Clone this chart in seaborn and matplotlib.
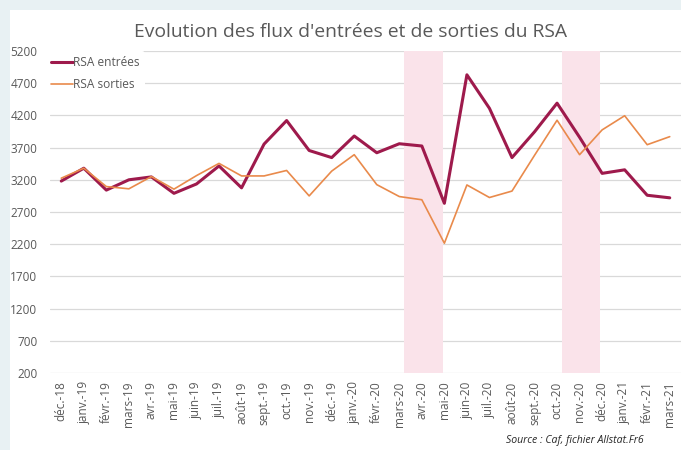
import matplotlib
matplotlib.use("Agg")
import matplotlib.pyplot as plt
from matplotlib.patches import Rectangle
import numpy as np
import pandas as pd
import seaborn as sns

mois = ["déc.-18", "janv.-19", "févr.-19", "mars-19", "avr.-19", "mai-19", "juin-19",
        "juil.-19", "août-19", "sept.-19", "oct.-19", "nov.-19", "déc.-19", "janv.-20",
        "févr.-20", "mars-20", "avr.-20", "mai-20", "juin-20", "juil.-20", "août-20",
        "sept.-20", "oct.-20", "nov.-20", "déc.-20", "janv.-21", "févr.-21", "mars-21"]
entrees = [3180, 3380, 3040, 3200, 3245, 2990, 3135, 3415, 3075, 3755, 4120, 3655,
           3545, 3880, 3620, 3760, 3725, 2835, 4830, 4310, 3545, 3945, 4390, 3860,
           3300, 3355, 2960, 2920]
sorties = [3225, 3380, 3095, 3060, 3250, 3055, 3265, 3455, 3260, 3260, 3345, 2950,
           3335, 3590, 3125, 2940, 2890, 2215, 3120, 2925, 3025, 3580, 4125, 3590,
           3975, 4195, 3745, 3870]
y_ticks = [200, 700, 1200, 1700, 2200, 2700, 3200, 3700, 4200, 4700, 5200]
# periodes de confinement (positions sur l'axe des mois)
confinements = [(15.2, 16.95), (22.2, 23.9)]

df = pd.DataFrame({
    "mois": list(range(len(mois))) * 2,
    "valeur": entrees + sorties,
    "serie": ["RSA entrées"] * len(mois) + ["RSA sorties"] * len(mois),
})

sns.set_style("white")
plt.rcParams["font.family"] = ["Open Sans", "DejaVu Sans"]

fig = plt.figure(figsize=(6.81, 4.5), dpi=100)
fig.patch.set_facecolor("#e8f1f3")
fig.add_artist(Rectangle((10 / 681, 0), 1, 1 - 10 / 450, transform=fig.transFigure,
                         facecolor="white", edgecolor="none", zorder=0))

ax = fig.add_axes([50 / 681, 1 - 373 / 450, 1 - 50 / 681, (373 - 51) / 450])
ax.set_facecolor("none")

for a, b in confinements:
    ax.axvspan(a, b, color="#fae3ea", zorder=1, lw=0)

sns.lineplot(data=df, x="mois", y="valeur", hue="serie", ax=ax,
             palette={"RSA entrées": "#9e1a4c", "RSA sorties": "#e98a4b"},
             size="serie", sizes={"RSA entrées": 2.2, "RSA sorties": 1.2},
             zorder=3)

ax.set_ylim(200, 5200)
ax.set_yticks(y_ticks)
ax.set_xlim(-0.5, len(mois) - 0.5)
ax.set_xticks(range(len(mois)))
ax.set_xticklabels(mois, rotation=90)
ax.tick_params(axis="both", length=0, labelsize=8.5, colors="#595959")
ax.tick_params(axis="x", pad=6)
ax.tick_params(axis="y", pad=9)
ax.grid(axis="y", color="#d9d9d9", lw=0.9, zorder=0)
ax.set_axisbelow(True)
sns.despine(ax=ax, left=True, bottom=True, right=True, top=True)
ax.set_xlabel(None)
ax.set_ylabel(None)

leg = ax.legend(loc="upper left", bbox_to_anchor=(-0.012, 1.01), frameon=True,
                facecolor="white", edgecolor="none", framealpha=1,
                fontsize=8.6, handlelength=1.9, handletextpad=0.0,
                labelspacing=0.75, borderaxespad=0.3)
for t in leg.get_texts():
    t.set_color("#595959")

fig.text(351 / 681, 1 - 32 / 450, "Evolution des flux d'entrées et de sorties du RSA",
         ha="center", va="center", fontsize=13.9, color="#595959")
fig.text(644 / 681, 1 - 441 / 450, "Source : Caf, fichier Allstat.Fr6",
         ha="right", va="center", fontsize=7.6, style="italic", color="#262626")

fig.savefig("out.png", dpi=100, facecolor=fig.get_facecolor())
